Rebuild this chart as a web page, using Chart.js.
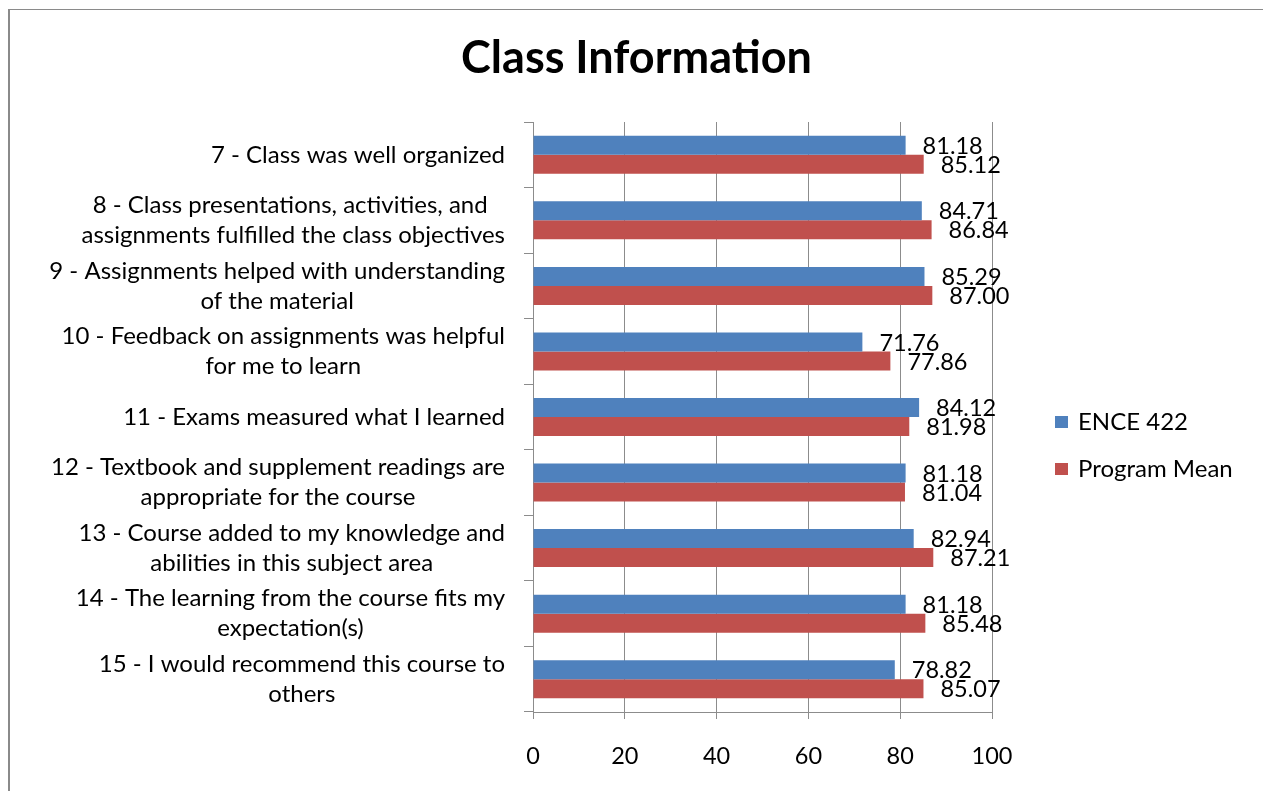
<!DOCTYPE html>
<html><head><meta charset="utf-8">
<script src="https://cdn.jsdelivr.net/npm/chart.js@4.4.1/dist/chart.umd.min.js"></script>
<style>
html,body{margin:0;padding:0;background:#fff;overflow:hidden;width:1263px;height:791px}
#frame{position:absolute;left:8px;top:9px;width:1300px;height:800px;border-top:1px solid #8a8a8a;border-left:2px solid #8a8a8a}
#c{position:absolute;left:10px;top:10px}
</style></head><body>
<div id="frame"></div>
<canvas id="c" width="1253" height="781"></canvas>
<script>
const chartTitle = 'Class Information';
const categories = [
  ['7 - Class was well organized'],
  ['8 - Class presentations, activities, and ', 'assignments fulfilled the class objectives'],
  ['9 - Assignments helped with understanding', 'of the material'],
  ['10 - Feedback on assignments was helpful', 'for me to learn'],
  ['11 - Exams measured what I learned'],
  ['12 - Textbook and supplement readings are', 'appropriate for the course'],
  ['13 - Course added to my knowledge and', 'abilities in this subject area'],
  ['14 - The learning from the course fits my', 'expectation(s)'],
  ['15 - I would recommend this course to', 'others']
];
const seriesNames = ['ENCE 422', 'Program Mean'];
const ence422 = [81.18, 84.71, 85.29, 71.76, 84.12, 81.18, 82.94, 81.18, 78.82];
const programMean = [85.12, 86.84, 87.00, 77.86, 81.98, 81.04, 87.21, 85.48, 85.07];
const xTicks = [0, 20, 40, 60, 80, 100];

const FONT = 'Lato, "Liberation Sans", sans-serif';
const LABEL_SIZE = 24;
const NUM_SIZE = 23.5;
const LINE_H = 30;
const GRID = '#8c8c8c';
const COLORS = ['#4F81BD', '#C0504D'];

const titlePlugin = {
  id: 'bigTitle',
  afterDraw(chart) {
    const ctx = chart.ctx;
    ctx.save();
    ctx.font = 'bold 45px ' + FONT;
    ctx.fillStyle = '#000';
    ctx.textAlign = 'center';
    ctx.textBaseline = 'middle';
    ctx.fillText(chartTitle, chart.width / 2, 48.5);
    ctx.restore();
  }
};

const yLabelPlugin = {
  id: 'yLabels',
  afterDraw(chart) {
    const ctx = chart.ctx, ys = chart.scales.y;
    const right = chart.chartArea.left - 28;
    ctx.save();
    ctx.font = LABEL_SIZE + 'px ' + FONT;
    ctx.fillStyle = '#000';
    ctx.textBaseline = 'middle';
    ctx.textAlign = 'center';
    chart.data.labels.forEach((lines, i) => {
      const yc = ys.getPixelForTick(i);
      const w = Math.max(...lines.map(l => ctx.measureText(l).width));
      const cx = right - w / 2;
      lines.forEach((l, j) => ctx.fillText(l, cx, yc + (j - (lines.length - 1) / 2) * LINE_H));
    });
    ctx.restore();
  }
};

const valueLabelPlugin = {
  id: 'valueLabels',
  afterDatasetsDraw(chart) {
    const ctx = chart.ctx;
    ctx.save();
    ctx.font = NUM_SIZE + 'px ' + FONT;
    ctx.fillStyle = '#000';
    ctx.textBaseline = 'middle';
    ctx.textAlign = 'left';
    chart.data.datasets.forEach((ds, di) => {
      chart.getDatasetMeta(di).data.forEach((el, i) => {
        ctx.fillText(ds.data[i].toFixed(2), el.x + 17, el.y + 1);
      });
    });
    ctx.restore();
  }
};

const legendPlugin = {
  id: 'sideLegend',
  afterDraw(chart) {
    const ctx = chart.ctx;
    const x0 = chart.chartArea.right + 63;
    const rows = [412, 459];
    ctx.save();
    ctx.font = LABEL_SIZE + 'px ' + FONT;
    ctx.textBaseline = 'middle';
    ctx.textAlign = 'left';
    chart.data.datasets.forEach((ds, i) => {
      const y = rows[i];
      ctx.fillStyle = ds.backgroundColor;
      ctx.fillRect(x0, y - 6, 13, 12);
      ctx.fillStyle = '#000';
      ctx.fillText(ds.label, x0 + 23, y);
    });
    ctx.restore();
  }
};

new Chart(document.getElementById('c'), {
  type: 'bar',
  data: {
    labels: categories,
    datasets: [
      { label: seriesNames[0], data: ence422, backgroundColor: COLORS[0] },
      { label: seriesNames[1], data: programMean, backgroundColor: COLORS[1] }
    ]
  },
  options: {
    indexAxis: 'y',
    responsive: false,
    animation: false,
    devicePixelRatio: 1,
    categoryPercentage: 0.58,
    barPercentage: 1.0,
    layout: { padding: { left: 0, right: 271, top: 112, bottom: 0 } },
    plugins: {
      legend: { display: false },
      tooltip: { enabled: false },
      title: { display: false }
    },
    scales: {
      x: {
        type: 'linear',
        min: 0, max: 100,
        afterBuildTicks: s => { s.ticks = xTicks.map(v => ({ value: v })); },
        ticks: { color: '#000', font: { family: FONT, size: NUM_SIZE }, padding: 23 },
        grid: { color: GRID, lineWidth: 1, tickLength: 7, drawOnChartArea: true },
        border: { display: true, color: GRID },
        afterFit: s => { s.height = 79; }
      },
      y: {
        type: 'category',
        offset: true,
        ticks: { display: false },
        grid: { offset: true, drawOnChartArea: false, drawTicks: true, tickLength: 9, color: GRID },
        border: { display: true, color: GRID },
        afterFit: s => { s.width = 523; }
      }
    }
  },
  plugins: [titlePlugin, yLabelPlugin, valueLabelPlugin, legendPlugin]
});
</script>
</body></html>
